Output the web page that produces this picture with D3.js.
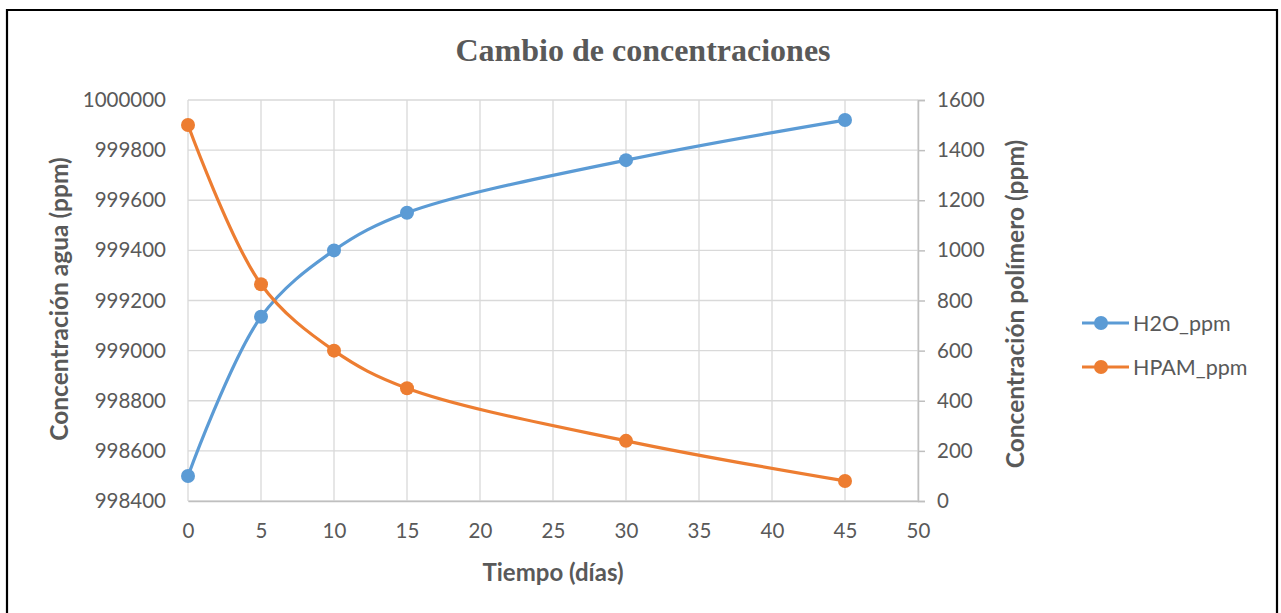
<!DOCTYPE html>
<html>
<head>
<meta charset="utf-8">
<script src="https://cdn.jsdelivr.net/npm/d3@7"></script>
<style>
  html, body { margin: 0; padding: 0; background: #fff; }
  svg { display: block; }
</style>
</head>
<body>
<svg id="chart" width="1281" height="613"></svg>
<script>
// Days since start
const days = [0, 5, 10, 15, 30, 45];
// Water concentration (ppm), left axis
const h2oPpm = [998500, 999135, 999400, 999550, 999760, 999920];
// Polymer concentration (ppm), right axis
const hpamPpm = [1500, 865, 600, 450, 240, 80];

const xTicks = [0, 5, 10, 15, 20, 25, 30, 35, 40, 45, 50];
const yLeftTicks = [998400, 998600, 998800, 999000, 999200, 999400, 999600, 999800, 1000000];
const yRightTicks = [0, 200, 400, 600, 800, 1000, 1200, 1400, 1600];

const seriesNames = ["H2O_ppm", "HPAM_ppm"];
const seriesColors = ["#5b9bd5", "#ed7d31"];

const svg = d3.select("#chart");
const W = 1281, H = 613;
const plot = { left: 188, right: 918, top: 100, bottom: 501 };
const font = "Lato, 'Open Sans', sans-serif";
const textColor = "#595959";
const tickSize = 20.5;

// Outer frame (no bottom edge visible)
svg.append("path")
  .attr("d", `M7,${H} V10 H1277 V${H}`)
  .attr("fill", "none")
  .attr("stroke", "#000")
  .attr("stroke-width", 2.2);

const x = d3.scaleLinear().domain([0, 50]).range([plot.left, plot.right]);
const yL = d3.scaleLinear().domain([998400, 1000000]).range([plot.bottom, plot.top]);
const yR = d3.scaleLinear().domain([0, 1600]).range([plot.bottom, plot.top]);

// Gridlines
const grid = svg.append("g").attr("stroke", "#d9d9d9").attr("stroke-width", 1.3);
grid.selectAll("line.h").data(yLeftTicks).join("line")
  .attr("x1", plot.left).attr("x2", plot.right)
  .attr("y1", d => yL(d)).attr("y2", d => yL(d));
grid.selectAll("line.v").data(xTicks).join("line")
  .attr("y1", plot.top).attr("y2", plot.bottom)
  .attr("x1", d => x(d)).attr("x2", d => x(d));

// Bottom axis
const xAxis = svg.append("g")
  .attr("transform", `translate(0,${plot.bottom})`)
  .call(d3.axisBottom(x).tickValues(xTicks).tickSize(0).tickPadding(22));
xAxis.select(".domain").attr("stroke", "#bfbfbf").attr("stroke-width", 1.5);
xAxis.selectAll("text").attr("fill", textColor).attr("font-size", tickSize).attr("font-family", font);

// Left axis
const yAxisL = svg.append("g")
  .attr("transform", `translate(${plot.left},0)`)
  .call(d3.axisLeft(yL).tickValues(yLeftTicks).tickSize(0).tickPadding(22).tickFormat(d3.format("d")));
yAxisL.select(".domain").remove();
yAxisL.selectAll("text").attr("fill", textColor).attr("font-size", tickSize).attr("font-family", font);

// Right axis
const yAxisR = svg.append("g")
  .attr("transform", `translate(${plot.right},0)`)
  .call(d3.axisRight(yR).tickValues(yRightTicks).tickSize(7).tickPadding(12).tickFormat(d3.format("d")));
yAxisR.select(".domain").attr("stroke", "#bfbfbf").attr("stroke-width", 1.5);
yAxisR.selectAll(".tick line").attr("stroke", "#bfbfbf").attr("stroke-width", 1.5);
yAxisR.selectAll("text").attr("fill", textColor).attr("font-size", tickSize).attr("font-family", font);

// Series
const curve = d3.curveCatmullRom.alpha(0.5);
const seriesData = [
  days.map((d, i) => [x(d), yL(h2oPpm[i])]),
  days.map((d, i) => [x(d), yR(hpamPpm[i])])
];
seriesData.forEach((pts, s) => {
  svg.append("path")
    .attr("d", d3.line().curve(curve)(pts))
    .attr("fill", "none")
    .attr("stroke", seriesColors[s])
    .attr("stroke-width", 3.2)
    .attr("stroke-linecap", "round");
  svg.append("g").selectAll("circle").data(pts).join("circle")
    .attr("cx", d => d[0]).attr("cy", d => d[1]).attr("r", 7)
    .attr("fill", seriesColors[s]);
});

// Title
svg.append("text")
  .attr("x", 643).attr("y", 61)
  .attr("text-anchor", "middle")
  .attr("font-family", "'Liberation Serif', 'DejaVu Serif', serif")
  .attr("font-weight", "bold")
  .attr("font-size", 32)
  .attr("fill", textColor)
  .text("Cambio de concentraciones");

// Axis titles
svg.append("text")
  .attr("x", 553).attr("y", 581)
  .attr("text-anchor", "middle")
  .attr("font-family", font).attr("font-weight", "bold").attr("font-size", 24)
  .attr("fill", textColor)
  .text("Tiempo (días)");

svg.append("text")
  .attr("transform", "translate(68,299) rotate(-90)")
  .attr("text-anchor", "middle")
  .attr("font-family", font).attr("font-weight", "bold").attr("font-size", 24.5)
  .attr("fill", textColor)
  .text("Concentración agua (ppm)");

svg.append("text")
  .attr("transform", "translate(1024,304) rotate(-90)")
  .attr("text-anchor", "middle")
  .attr("font-family", font).attr("font-weight", "bold").attr("font-size", 24.5)
  .attr("fill", textColor)
  .text("Concentración polímero (ppm)");

// Legend
const legend = svg.append("g");
seriesNames.forEach((name, i) => {
  const ly = 323 + i * 44;
  legend.append("line")
    .attr("x1", 1082).attr("x2", 1129).attr("y1", ly).attr("y2", ly)
    .attr("stroke", seriesColors[i]).attr("stroke-width", 3.2);
  legend.append("circle")
    .attr("cx", 1101).attr("cy", ly).attr("r", 7).attr("fill", seriesColors[i]);
  legend.append("text")
    .attr("x", 1133).attr("y", ly + 7.5)
    .attr("font-family", font).attr("font-size", 21.5).attr("fill", textColor)
    .text(name);
});
</script>
</body>
</html>
